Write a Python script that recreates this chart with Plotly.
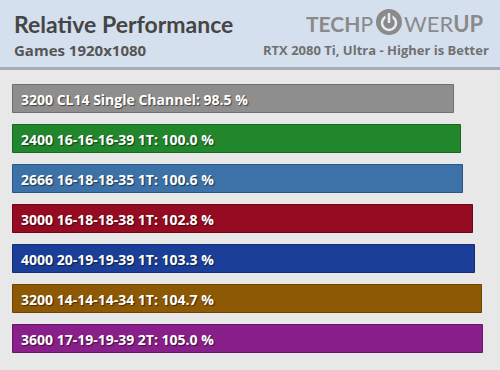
import plotly.graph_objects as go

labels = ["3200 CL14 Single Channel", "2400 16-16-16-39 1T", "2666 16-18-18-35 1T",
          "3000 16-18-18-38 1T", "4000 20-19-19-39 1T", "3200 14-14-14-34 1T",
          "3600 17-19-19-39 2T"]
values = [98.5, 100.0, 100.6, 102.8, 103.3, 104.7, 105.0]
colors = ["#8e8e8e", "#21862c", "#3d72a8", "#950b22", "#1b3f98", "#8d5905", "#891f8a"]
borders = ["#6f6f6f", "#17661f", "#2c5687", "#6d0516", "#122d73", "#6a4203", "#671667"]

W, H = 500, 370
px_per_unit = 470 / 105.0
x0 = 13
xr = [-x0 / px_per_unit, (W - x0) / px_per_unit]
pitch, c0 = 40.0, 99.0
yr = [(H - c0) / pitch, -c0 / pitch]

idx = list(range(len(values)))
fig = go.Figure()
fig.add_trace(go.Bar(
    x=values, y=idx, orientation="h", width=0.7,
    marker=dict(color=colors, line=dict(color=borders, width=1)),
    hoverinfo="skip",
))

for i, (lab, v) in enumerate(zip(labels, values)):
    fig.add_annotation(x=0, y=i, xref="x", yref="y", text=f"<b>{lab}: {v:.1f} %</b>",
                       showarrow=False, xanchor="left", xshift=6, yshift=0,
                       font=dict(family="Open Sans", size=14, color="white",
                                 shadow="1px 1px 1px rgba(0,0,0,0.55)"))

def py(p):
    return 1 - p / H

shapes = [
    dict(type="rect", xref="paper", yref="paper", x0=0, x1=1, y0=py(67), y1=1,
         fillcolor="#d5e0ee", line=dict(width=0), layer="below"),
    dict(type="rect", xref="paper", yref="paper", x0=0, x1=1, y0=py(70), y1=py(67),
         fillcolor="#a6adb8", line=dict(width=0), layer="below"),
]
# power icon in logo
cxp = 389
shapes.append(dict(type="circle", xref="paper", yref="paper",
                   x0=(cxp - 13) / W, x1=(cxp + 13) / W, y0=py(22 + 13), y1=py(22 - 13),
                   fillcolor="#8a8a8a", line=dict(width=0)))
shapes.append(dict(type="circle", xref="paper", yref="paper",
                   x0=(cxp - 7) / W, x1=(cxp + 7) / W, y0=py(23 + 7), y1=py(23 - 7),
                   fillcolor="rgba(0,0,0,0)", line=dict(color="#e8edf3", width=2.5)))
shapes.append(dict(type="rect", xref="paper", yref="paper",
                   x0=(cxp - 3.5) / W, x1=(cxp + 3.5) / W, y0=py(20), y1=py(13),
                   fillcolor="#8a8a8a", line=dict(width=0)))
shapes.append(dict(type="line", xref="paper", yref="paper",
                   x0=cxp / W, x1=cxp / W, y0=py(13), y1=py(23),
                   line=dict(color="#e8edf3", width=2.5)))
fig.update_layout(shapes=shapes)

ann = [
    dict(text="<b>Relative Performance</b>", x=12 / W, y=py(24), xanchor="left", yanchor="middle",
         font=dict(family="Lato", size=23, color="#454545")),
    dict(text="<b>Games 1920x1080</b>", x=12 / W, y=py(50), xanchor="left", yanchor="middle",
         font=dict(family="Open Sans", size=15, color="#555555")),
    dict(text="<b>RTX 2080 Ti, Ultra - Higher is Better</b>", x=491 / W, y=py(50), xanchor="right",
         yanchor="middle", font=dict(family="Open Sans", size=13, color="#707070")),
    dict(text="<b>TECH</b>P", x=375 / W, y=py(23), xanchor="right", yanchor="middle",
         font=dict(family="Lato", size=21, color="#8a8a8a")),
    dict(text="WER<b>UP</b>", x=402 / W, y=py(23), xanchor="left", yanchor="middle",
         font=dict(family="Lato", size=22, color="#8a8a8a")),
]
for a in ann:
    fig.add_annotation(xref="paper", yref="paper", showarrow=False, **a)

fig.update_layout(
    width=W, height=H, margin=dict(l=0, r=0, t=0, b=0),
    paper_bgcolor="#e8e8e8", plot_bgcolor="rgba(0,0,0,0)",
    xaxis=dict(range=xr, visible=False, fixedrange=True),
    yaxis=dict(range=yr, visible=False, fixedrange=True),
    showlegend=False, bargap=0,
)
fig.write_html("out.html", config={"displayModeBar": False},
               post_script="document.body.style.margin='0';document.body.style.overflow='hidden';")
